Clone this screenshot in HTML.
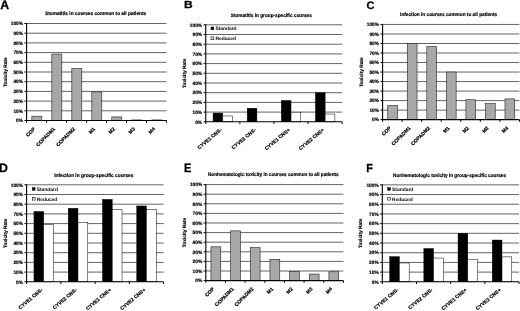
<!DOCTYPE html>
<html lang="en">
<head>
<meta charset="utf-8">
<title>Toxicity rates by course</title>
<style>
html,body{margin:0;padding:0;background:#fff;}
body{width:520px;height:311px;overflow:hidden;}
svg{display:block;filter:blur(0.38px);}
text{font-family:"Liberation Sans", Arial, Helvetica, sans-serif;fill:#000;text-rendering:geometricPrecision;}
.pl{font-size:12.3px;font-weight:bold;stroke:#000;stroke-width:0.3;}
.b{font-size:4.8px;font-weight:bold;stroke:#000;stroke-width:0.18;}
.xl{font-size:5px;}
.tt{font-size:5px;}
.r{font-size:4.9px;font-weight:bold;}
.g{stroke:#111;stroke-width:0.65;}
.a{stroke:#000;stroke-width:1.1;}
.t{stroke:#000;stroke-width:1;}
.gb{fill:#a8a8a8;stroke:#222;stroke-width:0.6;}
.kb{fill:#000;stroke:#000;stroke-width:0.4;}
.wb{fill:#fff;stroke:#000;stroke-width:0.5;}
</style>
</head>
<body>
<svg width="520" height="311" viewBox="0 0 520 311">
<rect x="0" y="0" width="520" height="311" fill="#fff"/>
<g>
<text transform="translate(0.2,8.7) scale(1,1)" class="pl">A</text>
<text x="45" y="15.4" class="b tt" textLength="101.2" lengthAdjust="spacingAndGlyphs">Stomatitis in courses common to all patients</text>
<line x1="26.6" y1="110.80" x2="166.5" y2="110.80" class="g"/>
<line x1="26.6" y1="101.10" x2="166.5" y2="101.10" class="g"/>
<line x1="26.6" y1="91.40" x2="166.5" y2="91.40" class="g"/>
<line x1="26.6" y1="81.70" x2="166.5" y2="81.70" class="g"/>
<line x1="26.6" y1="72.00" x2="166.5" y2="72.00" class="g"/>
<line x1="26.6" y1="62.30" x2="166.5" y2="62.30" class="g"/>
<line x1="26.6" y1="52.60" x2="166.5" y2="52.60" class="g"/>
<line x1="26.6" y1="42.90" x2="166.5" y2="42.90" class="g"/>
<line x1="26.6" y1="33.20" x2="166.5" y2="33.20" class="g"/>
<line x1="26.6" y1="23.50" x2="166.5" y2="23.50" class="g"/>
<line x1="24.400000000000002" y1="120.50" x2="26.6" y2="120.50" class="t"/>
<text x="23.0" y="122.25" class="b" text-anchor="end">0%</text>
<line x1="24.400000000000002" y1="110.80" x2="26.6" y2="110.80" class="t"/>
<text x="23.0" y="112.55" class="b" text-anchor="end">10%</text>
<line x1="24.400000000000002" y1="101.10" x2="26.6" y2="101.10" class="t"/>
<text x="23.0" y="102.85" class="b" text-anchor="end">20%</text>
<line x1="24.400000000000002" y1="91.40" x2="26.6" y2="91.40" class="t"/>
<text x="23.0" y="93.15" class="b" text-anchor="end">30%</text>
<line x1="24.400000000000002" y1="81.70" x2="26.6" y2="81.70" class="t"/>
<text x="23.0" y="83.45" class="b" text-anchor="end">40%</text>
<line x1="24.400000000000002" y1="72.00" x2="26.6" y2="72.00" class="t"/>
<text x="23.0" y="73.75" class="b" text-anchor="end">50%</text>
<line x1="24.400000000000002" y1="62.30" x2="26.6" y2="62.30" class="t"/>
<text x="23.0" y="64.05" class="b" text-anchor="end">60%</text>
<line x1="24.400000000000002" y1="52.60" x2="26.6" y2="52.60" class="t"/>
<text x="23.0" y="54.35" class="b" text-anchor="end">70%</text>
<line x1="24.400000000000002" y1="42.90" x2="26.6" y2="42.90" class="t"/>
<text x="23.0" y="44.65" class="b" text-anchor="end">80%</text>
<line x1="24.400000000000002" y1="33.20" x2="26.6" y2="33.20" class="t"/>
<text x="23.0" y="34.95" class="b" text-anchor="end">90%</text>
<line x1="24.400000000000002" y1="23.50" x2="26.6" y2="23.50" class="t"/>
<text x="23.0" y="25.25" class="b" text-anchor="end">100%</text>
<text transform="translate(7.2,72.00) rotate(-90)" class="b" text-anchor="middle">Toxicity Rate</text>
<rect x="31.85" y="116.23" width="9.99" height="4.27" class="gb"/>
<rect x="51.83" y="54.06" width="9.99" height="66.44" class="gb"/>
<rect x="71.82" y="68.60" width="9.99" height="51.90" class="gb"/>
<rect x="91.80" y="91.89" width="9.99" height="28.61" class="gb"/>
<rect x="111.79" y="116.91" width="9.99" height="3.59" class="gb"/>
<rect x="131.78" y="119.92" width="9.99" height="0.58" class="gb"/>
<rect x="151.76" y="119.92" width="9.99" height="0.58" class="gb"/>
<line x1="26.6" y1="23.00" x2="26.6" y2="121.00" class="a"/>
<line x1="26.6" y1="120.50" x2="166.5" y2="120.50" class="a"/>
<line x1="26.60" y1="120.50" x2="26.60" y2="122.70" class="t"/>
<line x1="46.59" y1="120.50" x2="46.59" y2="122.70" class="t"/>
<line x1="66.57" y1="120.50" x2="66.57" y2="122.70" class="t"/>
<line x1="86.56" y1="120.50" x2="86.56" y2="122.70" class="t"/>
<line x1="106.54" y1="120.50" x2="106.54" y2="122.70" class="t"/>
<line x1="126.53" y1="120.50" x2="126.53" y2="122.70" class="t"/>
<line x1="146.51" y1="120.50" x2="146.51" y2="122.70" class="t"/>
<line x1="166.50" y1="120.50" x2="166.50" y2="122.70" class="t"/>
<text transform="translate(35.59,129.30) rotate(-45)" class="b xl" text-anchor="end">COP</text>
<text transform="translate(55.58,129.30) rotate(-45)" class="b xl" text-anchor="end">COPADM1</text>
<text transform="translate(75.56,129.30) rotate(-45)" class="b xl" text-anchor="end">COPADM2</text>
<text transform="translate(95.55,129.30) rotate(-45)" class="b xl" text-anchor="end">M1</text>
<text transform="translate(115.54,129.30) rotate(-45)" class="b xl" text-anchor="end">M2</text>
<text transform="translate(135.52,129.30) rotate(-45)" class="b xl" text-anchor="end">M3</text>
<text transform="translate(155.51,129.30) rotate(-45)" class="b xl" text-anchor="end">M4</text>
</g>
<g>
<text transform="translate(184.0,8.3) scale(0.98,0.84)" class="pl">B</text>
<text x="230.8" y="17.0" class="b tt" textLength="81" lengthAdjust="spacingAndGlyphs">Stomatitis in group-specific courses</text>
<line x1="205.75" y1="112.10" x2="342.2" y2="112.10" class="g"/>
<line x1="205.75" y1="102.40" x2="342.2" y2="102.40" class="g"/>
<line x1="205.75" y1="92.70" x2="342.2" y2="92.70" class="g"/>
<line x1="205.75" y1="83.00" x2="342.2" y2="83.00" class="g"/>
<line x1="205.75" y1="73.30" x2="342.2" y2="73.30" class="g"/>
<line x1="205.75" y1="63.60" x2="342.2" y2="63.60" class="g"/>
<line x1="205.75" y1="53.90" x2="342.2" y2="53.90" class="g"/>
<line x1="205.75" y1="44.20" x2="342.2" y2="44.20" class="g"/>
<line x1="205.75" y1="34.50" x2="342.2" y2="34.50" class="g"/>
<line x1="205.75" y1="24.80" x2="342.2" y2="24.80" class="g"/>
<line x1="203.55" y1="121.80" x2="205.75" y2="121.80" class="t"/>
<text x="202.15" y="123.55" class="b" text-anchor="end">0%</text>
<line x1="203.55" y1="112.10" x2="205.75" y2="112.10" class="t"/>
<text x="202.15" y="113.85" class="b" text-anchor="end">10%</text>
<line x1="203.55" y1="102.40" x2="205.75" y2="102.40" class="t"/>
<text x="202.15" y="104.15" class="b" text-anchor="end">20%</text>
<line x1="203.55" y1="92.70" x2="205.75" y2="92.70" class="t"/>
<text x="202.15" y="94.45" class="b" text-anchor="end">30%</text>
<line x1="203.55" y1="83.00" x2="205.75" y2="83.00" class="t"/>
<text x="202.15" y="84.75" class="b" text-anchor="end">40%</text>
<line x1="203.55" y1="73.30" x2="205.75" y2="73.30" class="t"/>
<text x="202.15" y="75.05" class="b" text-anchor="end">50%</text>
<line x1="203.55" y1="63.60" x2="205.75" y2="63.60" class="t"/>
<text x="202.15" y="65.35" class="b" text-anchor="end">60%</text>
<line x1="203.55" y1="53.90" x2="205.75" y2="53.90" class="t"/>
<text x="202.15" y="55.65" class="b" text-anchor="end">70%</text>
<line x1="203.55" y1="44.20" x2="205.75" y2="44.20" class="t"/>
<text x="202.15" y="45.95" class="b" text-anchor="end">80%</text>
<line x1="203.55" y1="34.50" x2="205.75" y2="34.50" class="t"/>
<text x="202.15" y="36.25" class="b" text-anchor="end">90%</text>
<line x1="203.55" y1="24.80" x2="205.75" y2="24.80" class="t"/>
<text x="202.15" y="26.55" class="b" text-anchor="end">100%</text>
<text transform="translate(185.5,73.30) rotate(-90)" class="b" text-anchor="middle">Toxicity Rate</text>
<rect x="213.06" y="113.07" width="9.75" height="8.73" class="kb"/>
<rect x="222.81" y="115.98" width="9.75" height="5.82" class="wb"/>
<rect x="247.17" y="108.22" width="9.75" height="13.58" class="kb"/>
<rect x="281.28" y="100.46" width="9.75" height="21.34" class="kb"/>
<rect x="291.03" y="112.20" width="9.75" height="9.60" class="wb"/>
<rect x="315.40" y="92.70" width="9.75" height="29.10" class="kb"/>
<rect x="325.14" y="114.04" width="9.75" height="7.76" class="wb"/>
<line x1="205.75" y1="24.30" x2="205.75" y2="122.30" class="a"/>
<line x1="205.75" y1="121.80" x2="342.2" y2="121.80" class="a"/>
<line x1="205.75" y1="121.80" x2="205.75" y2="124.00" class="t"/>
<line x1="239.86" y1="121.80" x2="239.86" y2="124.00" class="t"/>
<line x1="273.98" y1="121.80" x2="273.98" y2="124.00" class="t"/>
<line x1="308.09" y1="121.80" x2="308.09" y2="124.00" class="t"/>
<line x1="342.20" y1="121.80" x2="342.20" y2="124.00" class="t"/>
<text transform="translate(222.21,130.40) rotate(-40)" class="b xl" text-anchor="end">CYVE1 CNS-</text>
<text transform="translate(256.32,130.40) rotate(-40)" class="b xl" text-anchor="end">CYVE2 CNS-</text>
<text transform="translate(290.43,130.40) rotate(-40)" class="b xl" text-anchor="end">CYVE1 CNS+</text>
<text transform="translate(324.54,130.40) rotate(-40)" class="b xl" text-anchor="end">CYVE2 CNS+</text>
<rect x="211.00" y="27.00" width="2.8" height="2.8" fill="#000" stroke="#000" stroke-width="0.4"/>
<text x="215.40" y="30.35" class="r">Standard</text>
<rect x="211.00" y="36.90" width="2.8" height="2.8" fill="#fff" stroke="#000" stroke-width="0.6"/>
<text x="215.40" y="40.25" class="r">Reduced</text>
</g>
<g>
<text transform="translate(366.4,8.6) scale(0.9,0.88)" class="pl">C</text>
<text x="400.1" y="16.4" class="b tt" textLength="97.1" lengthAdjust="spacingAndGlyphs">Infection in courses common to all patients</text>
<line x1="382.6" y1="110.13" x2="519.4" y2="110.13" class="g"/>
<line x1="382.6" y1="100.61" x2="519.4" y2="100.61" class="g"/>
<line x1="382.6" y1="91.09" x2="519.4" y2="91.09" class="g"/>
<line x1="382.6" y1="81.57" x2="519.4" y2="81.57" class="g"/>
<line x1="382.6" y1="72.05" x2="519.4" y2="72.05" class="g"/>
<line x1="382.6" y1="62.53" x2="519.4" y2="62.53" class="g"/>
<line x1="382.6" y1="53.01" x2="519.4" y2="53.01" class="g"/>
<line x1="382.6" y1="43.49" x2="519.4" y2="43.49" class="g"/>
<line x1="382.6" y1="33.97" x2="519.4" y2="33.97" class="g"/>
<line x1="382.6" y1="24.45" x2="519.4" y2="24.45" class="g"/>
<line x1="380.40000000000003" y1="119.65" x2="382.6" y2="119.65" class="t"/>
<text x="379.0" y="121.40" class="b" text-anchor="end">0%</text>
<line x1="380.40000000000003" y1="110.13" x2="382.6" y2="110.13" class="t"/>
<text x="379.0" y="111.88" class="b" text-anchor="end">10%</text>
<line x1="380.40000000000003" y1="100.61" x2="382.6" y2="100.61" class="t"/>
<text x="379.0" y="102.36" class="b" text-anchor="end">20%</text>
<line x1="380.40000000000003" y1="91.09" x2="382.6" y2="91.09" class="t"/>
<text x="379.0" y="92.84" class="b" text-anchor="end">30%</text>
<line x1="380.40000000000003" y1="81.57" x2="382.6" y2="81.57" class="t"/>
<text x="379.0" y="83.32" class="b" text-anchor="end">40%</text>
<line x1="380.40000000000003" y1="72.05" x2="382.6" y2="72.05" class="t"/>
<text x="379.0" y="73.80" class="b" text-anchor="end">50%</text>
<line x1="380.40000000000003" y1="62.53" x2="382.6" y2="62.53" class="t"/>
<text x="379.0" y="64.28" class="b" text-anchor="end">60%</text>
<line x1="380.40000000000003" y1="53.01" x2="382.6" y2="53.01" class="t"/>
<text x="379.0" y="54.76" class="b" text-anchor="end">70%</text>
<line x1="380.40000000000003" y1="43.49" x2="382.6" y2="43.49" class="t"/>
<text x="379.0" y="45.24" class="b" text-anchor="end">80%</text>
<line x1="380.40000000000003" y1="33.97" x2="382.6" y2="33.97" class="t"/>
<text x="379.0" y="35.72" class="b" text-anchor="end">90%</text>
<line x1="380.40000000000003" y1="24.45" x2="382.6" y2="24.45" class="t"/>
<text x="379.0" y="26.20" class="b" text-anchor="end">100%</text>
<text transform="translate(362.5,72.05) rotate(-90)" class="b" text-anchor="middle">Toxicity Rate</text>
<rect x="387.74" y="105.47" width="9.77" height="14.18" class="gb"/>
<rect x="407.28" y="43.49" width="9.77" height="76.16" class="gb"/>
<rect x="426.82" y="46.35" width="9.77" height="73.30" class="gb"/>
<rect x="446.36" y="72.05" width="9.77" height="47.60" class="gb"/>
<rect x="465.91" y="99.75" width="9.77" height="19.90" class="gb"/>
<rect x="485.45" y="103.56" width="9.77" height="16.09" class="gb"/>
<rect x="504.99" y="98.90" width="9.77" height="20.75" class="gb"/>
<line x1="382.6" y1="23.95" x2="382.6" y2="120.15" class="a"/>
<line x1="382.6" y1="119.65" x2="519.4" y2="119.65" class="a"/>
<line x1="382.60" y1="119.65" x2="382.60" y2="121.85" class="t"/>
<line x1="402.14" y1="119.65" x2="402.14" y2="121.85" class="t"/>
<line x1="421.69" y1="119.65" x2="421.69" y2="121.85" class="t"/>
<line x1="441.23" y1="119.65" x2="441.23" y2="121.85" class="t"/>
<line x1="460.77" y1="119.65" x2="460.77" y2="121.85" class="t"/>
<line x1="480.31" y1="119.65" x2="480.31" y2="121.85" class="t"/>
<line x1="499.86" y1="119.65" x2="499.86" y2="121.85" class="t"/>
<line x1="519.40" y1="119.65" x2="519.40" y2="121.85" class="t"/>
<text transform="translate(391.37,128.45) rotate(-45)" class="b xl" text-anchor="end">COP</text>
<text transform="translate(410.91,128.45) rotate(-45)" class="b xl" text-anchor="end">COPADM1</text>
<text transform="translate(430.46,128.45) rotate(-45)" class="b xl" text-anchor="end">COPADM2</text>
<text transform="translate(450.00,128.45) rotate(-45)" class="b xl" text-anchor="end">M1</text>
<text transform="translate(469.54,128.45) rotate(-45)" class="b xl" text-anchor="end">M2</text>
<text transform="translate(489.09,128.45) rotate(-45)" class="b xl" text-anchor="end">M3</text>
<text transform="translate(508.63,128.45) rotate(-45)" class="b xl" text-anchor="end">M4</text>
</g>
<g>
<text transform="translate(-1.1,172.3) scale(1,1)" class="pl">D</text>
<text x="54.2" y="176.65" class="b tt" textLength="79.2" lengthAdjust="spacingAndGlyphs">Infection in group-specific courses</text>
<line x1="26.6" y1="272.10" x2="163.6" y2="272.10" class="g"/>
<line x1="26.6" y1="262.40" x2="163.6" y2="262.40" class="g"/>
<line x1="26.6" y1="252.70" x2="163.6" y2="252.70" class="g"/>
<line x1="26.6" y1="243.00" x2="163.6" y2="243.00" class="g"/>
<line x1="26.6" y1="233.30" x2="163.6" y2="233.30" class="g"/>
<line x1="26.6" y1="223.60" x2="163.6" y2="223.60" class="g"/>
<line x1="26.6" y1="213.90" x2="163.6" y2="213.90" class="g"/>
<line x1="26.6" y1="204.20" x2="163.6" y2="204.20" class="g"/>
<line x1="26.6" y1="194.50" x2="163.6" y2="194.50" class="g"/>
<line x1="26.6" y1="184.80" x2="163.6" y2="184.80" class="g"/>
<line x1="24.400000000000002" y1="281.80" x2="26.6" y2="281.80" class="t"/>
<text x="23.0" y="283.55" class="b" text-anchor="end">0%</text>
<line x1="24.400000000000002" y1="272.10" x2="26.6" y2="272.10" class="t"/>
<text x="23.0" y="273.85" class="b" text-anchor="end">10%</text>
<line x1="24.400000000000002" y1="262.40" x2="26.6" y2="262.40" class="t"/>
<text x="23.0" y="264.15" class="b" text-anchor="end">20%</text>
<line x1="24.400000000000002" y1="252.70" x2="26.6" y2="252.70" class="t"/>
<text x="23.0" y="254.45" class="b" text-anchor="end">30%</text>
<line x1="24.400000000000002" y1="243.00" x2="26.6" y2="243.00" class="t"/>
<text x="23.0" y="244.75" class="b" text-anchor="end">40%</text>
<line x1="24.400000000000002" y1="233.30" x2="26.6" y2="233.30" class="t"/>
<text x="23.0" y="235.05" class="b" text-anchor="end">50%</text>
<line x1="24.400000000000002" y1="223.60" x2="26.6" y2="223.60" class="t"/>
<text x="23.0" y="225.35" class="b" text-anchor="end">60%</text>
<line x1="24.400000000000002" y1="213.90" x2="26.6" y2="213.90" class="t"/>
<text x="23.0" y="215.65" class="b" text-anchor="end">70%</text>
<line x1="24.400000000000002" y1="204.20" x2="26.6" y2="204.20" class="t"/>
<text x="23.0" y="205.95" class="b" text-anchor="end">80%</text>
<line x1="24.400000000000002" y1="194.50" x2="26.6" y2="194.50" class="t"/>
<text x="23.0" y="196.25" class="b" text-anchor="end">90%</text>
<line x1="24.400000000000002" y1="184.80" x2="26.6" y2="184.80" class="t"/>
<text x="23.0" y="186.55" class="b" text-anchor="end">100%</text>
<text transform="translate(7.2,233.30) rotate(-90)" class="b" text-anchor="middle">Toxicity Rate</text>
<rect x="33.94" y="211.48" width="9.79" height="70.32" class="kb"/>
<rect x="43.73" y="224.47" width="9.79" height="57.33" class="wb"/>
<rect x="68.19" y="208.27" width="9.79" height="73.53" class="kb"/>
<rect x="77.98" y="222.44" width="9.79" height="59.36" class="wb"/>
<rect x="102.44" y="199.35" width="9.79" height="82.45" class="kb"/>
<rect x="112.23" y="209.44" width="9.79" height="72.36" class="wb"/>
<rect x="136.69" y="205.95" width="9.79" height="75.85" class="kb"/>
<rect x="146.47" y="209.44" width="9.79" height="72.36" class="wb"/>
<line x1="26.6" y1="184.30" x2="26.6" y2="282.30" class="a"/>
<line x1="26.6" y1="281.80" x2="163.6" y2="281.80" class="a"/>
<line x1="26.60" y1="281.80" x2="26.60" y2="284.00" class="t"/>
<line x1="60.85" y1="281.80" x2="60.85" y2="284.00" class="t"/>
<line x1="95.10" y1="281.80" x2="95.10" y2="284.00" class="t"/>
<line x1="129.35" y1="281.80" x2="129.35" y2="284.00" class="t"/>
<line x1="163.60" y1="281.80" x2="163.60" y2="284.00" class="t"/>
<text transform="translate(43.12,290.40) rotate(-40)" class="b xl" text-anchor="end">CYVE1 CNS-</text>
<text transform="translate(77.38,290.40) rotate(-40)" class="b xl" text-anchor="end">CYVE2 CNS-</text>
<text transform="translate(111.62,290.40) rotate(-40)" class="b xl" text-anchor="end">CYVE1 CNS+</text>
<text transform="translate(145.88,290.40) rotate(-40)" class="b xl" text-anchor="end">CYVE2 CNS+</text>
<rect x="32.30" y="187.60" width="2.8" height="2.8" fill="#000" stroke="#000" stroke-width="0.4"/>
<text x="36.70" y="190.95" class="r">Standard</text>
<rect x="32.30" y="197.30" width="2.8" height="2.8" fill="#fff" stroke="#000" stroke-width="0.6"/>
<text x="36.70" y="200.65" class="r">Reduced</text>
</g>
<g>
<text transform="translate(184.1,172.1) scale(0.9,1)" class="pl">E</text>
<text x="208" y="176.3" class="b tt" textLength="130.7" lengthAdjust="spacingAndGlyphs">Nonhematologic toxicity in courses common to all patients</text>
<line x1="205.8" y1="271.00" x2="343.4" y2="271.00" class="g"/>
<line x1="205.8" y1="261.40" x2="343.4" y2="261.40" class="g"/>
<line x1="205.8" y1="251.80" x2="343.4" y2="251.80" class="g"/>
<line x1="205.8" y1="242.20" x2="343.4" y2="242.20" class="g"/>
<line x1="205.8" y1="232.60" x2="343.4" y2="232.60" class="g"/>
<line x1="205.8" y1="223.00" x2="343.4" y2="223.00" class="g"/>
<line x1="205.8" y1="213.40" x2="343.4" y2="213.40" class="g"/>
<line x1="205.8" y1="203.80" x2="343.4" y2="203.80" class="g"/>
<line x1="205.8" y1="194.20" x2="343.4" y2="194.20" class="g"/>
<line x1="205.8" y1="184.60" x2="343.4" y2="184.60" class="g"/>
<line x1="203.60000000000002" y1="280.60" x2="205.8" y2="280.60" class="t"/>
<text x="202.20000000000002" y="282.35" class="b" text-anchor="end">0%</text>
<line x1="203.60000000000002" y1="271.00" x2="205.8" y2="271.00" class="t"/>
<text x="202.20000000000002" y="272.75" class="b" text-anchor="end">10%</text>
<line x1="203.60000000000002" y1="261.40" x2="205.8" y2="261.40" class="t"/>
<text x="202.20000000000002" y="263.15" class="b" text-anchor="end">20%</text>
<line x1="203.60000000000002" y1="251.80" x2="205.8" y2="251.80" class="t"/>
<text x="202.20000000000002" y="253.55" class="b" text-anchor="end">30%</text>
<line x1="203.60000000000002" y1="242.20" x2="205.8" y2="242.20" class="t"/>
<text x="202.20000000000002" y="243.95" class="b" text-anchor="end">40%</text>
<line x1="203.60000000000002" y1="232.60" x2="205.8" y2="232.60" class="t"/>
<text x="202.20000000000002" y="234.35" class="b" text-anchor="end">50%</text>
<line x1="203.60000000000002" y1="223.00" x2="205.8" y2="223.00" class="t"/>
<text x="202.20000000000002" y="224.75" class="b" text-anchor="end">60%</text>
<line x1="203.60000000000002" y1="213.40" x2="205.8" y2="213.40" class="t"/>
<text x="202.20000000000002" y="215.15" class="b" text-anchor="end">70%</text>
<line x1="203.60000000000002" y1="203.80" x2="205.8" y2="203.80" class="t"/>
<text x="202.20000000000002" y="205.55" class="b" text-anchor="end">80%</text>
<line x1="203.60000000000002" y1="194.20" x2="205.8" y2="194.20" class="t"/>
<text x="202.20000000000002" y="195.95" class="b" text-anchor="end">90%</text>
<line x1="203.60000000000002" y1="184.60" x2="205.8" y2="184.60" class="t"/>
<text x="202.20000000000002" y="186.35" class="b" text-anchor="end">100%</text>
<text transform="translate(185.5,232.60) rotate(-90)" class="b" text-anchor="middle">Toxicity Rate</text>
<rect x="210.96" y="246.81" width="9.83" height="33.79" class="gb"/>
<rect x="230.62" y="230.87" width="9.83" height="49.73" class="gb"/>
<rect x="250.28" y="247.67" width="9.83" height="32.93" class="gb"/>
<rect x="269.94" y="259.29" width="9.83" height="21.31" class="gb"/>
<rect x="289.59" y="271.38" width="9.83" height="9.22" class="gb"/>
<rect x="309.25" y="274.07" width="9.83" height="6.53" class="gb"/>
<rect x="328.91" y="271.77" width="9.83" height="8.83" class="gb"/>
<line x1="205.8" y1="184.10" x2="205.8" y2="281.10" class="a"/>
<line x1="205.8" y1="280.60" x2="343.4" y2="280.60" class="a"/>
<line x1="205.80" y1="280.60" x2="205.80" y2="282.80" class="t"/>
<line x1="225.46" y1="280.60" x2="225.46" y2="282.80" class="t"/>
<line x1="245.11" y1="280.60" x2="245.11" y2="282.80" class="t"/>
<line x1="264.77" y1="280.60" x2="264.77" y2="282.80" class="t"/>
<line x1="284.43" y1="280.60" x2="284.43" y2="282.80" class="t"/>
<line x1="304.09" y1="280.60" x2="304.09" y2="282.80" class="t"/>
<line x1="323.74" y1="280.60" x2="323.74" y2="282.80" class="t"/>
<line x1="343.40" y1="280.60" x2="343.40" y2="282.80" class="t"/>
<text transform="translate(214.63,289.40) rotate(-45)" class="b xl" text-anchor="end">COP</text>
<text transform="translate(234.29,289.40) rotate(-45)" class="b xl" text-anchor="end">COPADM1</text>
<text transform="translate(253.94,289.40) rotate(-45)" class="b xl" text-anchor="end">COPADM2</text>
<text transform="translate(273.60,289.40) rotate(-45)" class="b xl" text-anchor="end">M1</text>
<text transform="translate(293.26,289.40) rotate(-45)" class="b xl" text-anchor="end">M2</text>
<text transform="translate(312.91,289.40) rotate(-45)" class="b xl" text-anchor="end">M3</text>
<text transform="translate(332.57,289.40) rotate(-45)" class="b xl" text-anchor="end">M4</text>
</g>
<g>
<text transform="translate(366.2,171.7) scale(0.88,0.95)" class="pl">F</text>
<text x="393.0" y="176.5" class="b tt" textLength="113.1" lengthAdjust="spacingAndGlyphs">Nonhematologic toxicity in group-specific courses</text>
<line x1="382.3" y1="272.11" x2="519.1" y2="272.11" class="g"/>
<line x1="382.3" y1="262.41" x2="519.1" y2="262.41" class="g"/>
<line x1="382.3" y1="252.72" x2="519.1" y2="252.72" class="g"/>
<line x1="382.3" y1="243.02" x2="519.1" y2="243.02" class="g"/>
<line x1="382.3" y1="233.32" x2="519.1" y2="233.32" class="g"/>
<line x1="382.3" y1="223.63" x2="519.1" y2="223.63" class="g"/>
<line x1="382.3" y1="213.94" x2="519.1" y2="213.94" class="g"/>
<line x1="382.3" y1="204.24" x2="519.1" y2="204.24" class="g"/>
<line x1="382.3" y1="194.54" x2="519.1" y2="194.54" class="g"/>
<line x1="382.3" y1="184.85" x2="519.1" y2="184.85" class="g"/>
<line x1="380.1" y1="281.80" x2="382.3" y2="281.80" class="t"/>
<text x="378.7" y="283.55" class="b" text-anchor="end">0%</text>
<line x1="380.1" y1="272.11" x2="382.3" y2="272.11" class="t"/>
<text x="378.7" y="273.86" class="b" text-anchor="end">10%</text>
<line x1="380.1" y1="262.41" x2="382.3" y2="262.41" class="t"/>
<text x="378.7" y="264.16" class="b" text-anchor="end">20%</text>
<line x1="380.1" y1="252.72" x2="382.3" y2="252.72" class="t"/>
<text x="378.7" y="254.47" class="b" text-anchor="end">30%</text>
<line x1="380.1" y1="243.02" x2="382.3" y2="243.02" class="t"/>
<text x="378.7" y="244.77" class="b" text-anchor="end">40%</text>
<line x1="380.1" y1="233.32" x2="382.3" y2="233.32" class="t"/>
<text x="378.7" y="235.07" class="b" text-anchor="end">50%</text>
<line x1="380.1" y1="223.63" x2="382.3" y2="223.63" class="t"/>
<text x="378.7" y="225.38" class="b" text-anchor="end">60%</text>
<line x1="380.1" y1="213.94" x2="382.3" y2="213.94" class="t"/>
<text x="378.7" y="215.69" class="b" text-anchor="end">70%</text>
<line x1="380.1" y1="204.24" x2="382.3" y2="204.24" class="t"/>
<text x="378.7" y="205.99" class="b" text-anchor="end">80%</text>
<line x1="380.1" y1="194.54" x2="382.3" y2="194.54" class="t"/>
<text x="378.7" y="196.29" class="b" text-anchor="end">90%</text>
<line x1="380.1" y1="184.85" x2="382.3" y2="184.85" class="t"/>
<text x="378.7" y="186.60" class="b" text-anchor="end">100%</text>
<text transform="translate(362.0,233.32) rotate(-90)" class="b" text-anchor="middle">Toxicity Rate</text>
<rect x="389.63" y="256.59" width="9.77" height="25.21" class="kb"/>
<rect x="399.40" y="262.99" width="9.77" height="18.81" class="wb"/>
<rect x="423.83" y="248.45" width="9.77" height="33.35" class="kb"/>
<rect x="433.60" y="258.05" width="9.77" height="23.75" class="wb"/>
<rect x="458.03" y="233.32" width="9.77" height="48.48" class="kb"/>
<rect x="467.80" y="259.21" width="9.77" height="22.59" class="wb"/>
<rect x="492.23" y="240.01" width="9.77" height="41.79" class="kb"/>
<rect x="502.00" y="256.88" width="9.77" height="24.92" class="wb"/>
<line x1="382.3" y1="184.35" x2="382.3" y2="282.30" class="a"/>
<line x1="382.3" y1="281.80" x2="519.1" y2="281.80" class="a"/>
<line x1="382.30" y1="281.80" x2="382.30" y2="284.00" class="t"/>
<line x1="416.50" y1="281.80" x2="416.50" y2="284.00" class="t"/>
<line x1="450.70" y1="281.80" x2="450.70" y2="284.00" class="t"/>
<line x1="484.90" y1="281.80" x2="484.90" y2="284.00" class="t"/>
<line x1="519.10" y1="281.80" x2="519.10" y2="284.00" class="t"/>
<text transform="translate(398.80,290.40) rotate(-40)" class="b xl" text-anchor="end">CYVE1 CNS-</text>
<text transform="translate(433.00,290.40) rotate(-40)" class="b xl" text-anchor="end">CYVE2 CNS-</text>
<text transform="translate(467.20,290.40) rotate(-40)" class="b xl" text-anchor="end">CYVE1 CNS+</text>
<text transform="translate(501.40,290.40) rotate(-40)" class="b xl" text-anchor="end">CYVE2 CNS+</text>
<rect x="387.70" y="187.60" width="2.8" height="2.8" fill="#000" stroke="#000" stroke-width="0.4"/>
<text x="392.10" y="190.95" class="r">Standard</text>
<rect x="387.70" y="197.30" width="2.8" height="2.8" fill="#fff" stroke="#000" stroke-width="0.6"/>
<text x="392.10" y="200.65" class="r">Reduced</text>
</g>
</svg>
</body>
</html>
